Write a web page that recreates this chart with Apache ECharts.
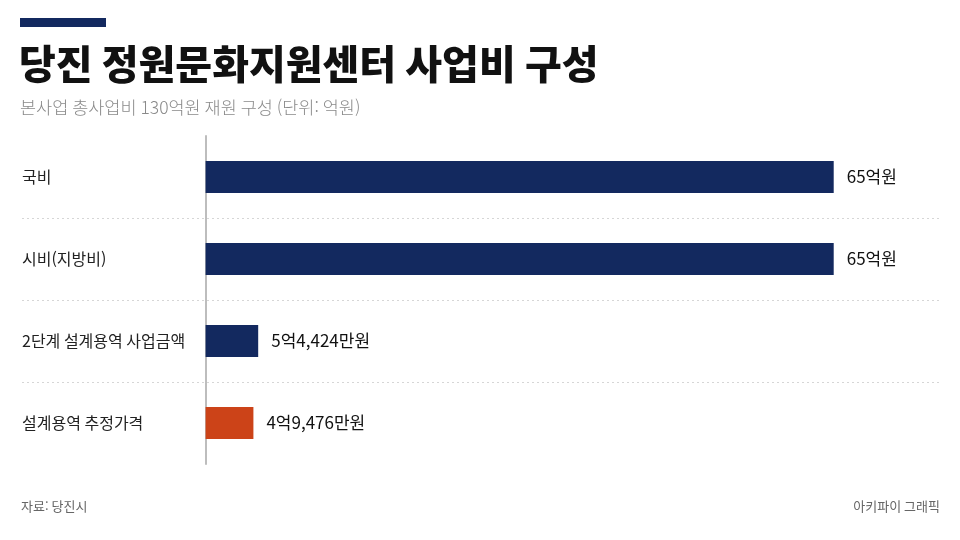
<!DOCTYPE html>
<html lang="ko">
<head>
    <meta charset="UTF-8">
    <title>당진 정원문화지원센터 사업비 구성</title>
    <script src="https://cdn.jsdelivr.net/npm/echarts@6/dist/echarts.min.js"></script>
    <style>
        html, body { margin: 0; padding: 0; background: #fff; }
        #chart { width: 960px; height: 540px; }
    </style>
</head>
<body>
<div id="chart"></div>
<script type="text/javascript">
    // 데이터 (단위: 억원)
    var categories = ['국비', '시비(지방비)', '2단계 설계용역 사업금액', '설계용역 추정가격'];
    var values = [65, 65, 5.4424, 4.9476];
    var valueLabels = ['65억원', '65억원', '5억4,424만원', '4억9,476만원'];
    var barColors = ['#13295f', '#13295f', '#13295f', '#cc4318'];

    var FONT = '"Noto Sans CJK KR", "Noto Sans", sans-serif';

    var chart = echarts.init(document.getElementById('chart'));
    chart.setOption({
        backgroundColor: '#ffffff',
        textStyle: { fontFamily: FONT },
        graphic: [{
            type: 'rect',
            left: 20, top: 18,
            shape: { width: 86, height: 9 },
            style: { fill: '#13295f' }
        }],
        title: [{
            text: '당진 정원문화지원센터 사업비 구성',
            left: 14, top: 39,
            textStyle: { fontFamily: FONT, fontSize: 40, fontWeight: 900, color: '#111111' }
        }, {
            text: '본사업 총사업비 130억원 재원 구성 (단위: 억원)',
            left: 15, top: 94,
            textStyle: { fontFamily: FONT, fontSize: 17.5, fontWeight: 300, color: '#8a8a8a' }
        }, {
            text: '자료: 당진시',
            left: 16, top: 495,
            textStyle: { fontFamily: FONT, fontSize: 13, fontWeight: 'normal', color: '#666666' }
        }, {
            text: '아키파이 그래픽',
            right: 15, top: 495,
            textStyle: { fontFamily: FONT, fontSize: 13, fontWeight: 'normal', color: '#666666' }
        }],
        grid: { left: 22, right: 20, top: 136, bottom: 76, containLabel: false, outerBoundsMode: 'none' },
        xAxis: {
            type: 'value',
            min: -19,
            max: 76,
            show: false,
            splitLine: { show: false }
        },
        yAxis: {
            type: 'category',
            inverse: true,
            data: categories,
            axisLine: { show: true, onZero: true, lineStyle: { color: '#bdbdbd', width: 2 } },
            axisTick: { show: false },
            axisLabel: {
                align: 'left',
                margin: 0,
                fontFamily: FONT,
                fontSize: 16,
                color: '#222222'
            },
            splitLine: {
                show: true,
                showMinLine: false,
                showMaxLine: false,
                lineStyle: { color: '#d6d6d6', type: [2, 3], width: 1 }
            }
        },
        series: [{
            type: 'bar',
            barWidth: 32,
            data: values.map(function (v, i) {
                return { value: v, itemStyle: { color: barColors[i] } };
            }),
            label: {
                show: true,
                position: 'right',
                distance: 13,
                fontFamily: FONT,
                fontSize: 17,
                color: '#111111',
                formatter: function (p) { return valueLabels[p.dataIndex]; }
            },
            animation: false
        }]
    });
</script>
</body>
</html>
